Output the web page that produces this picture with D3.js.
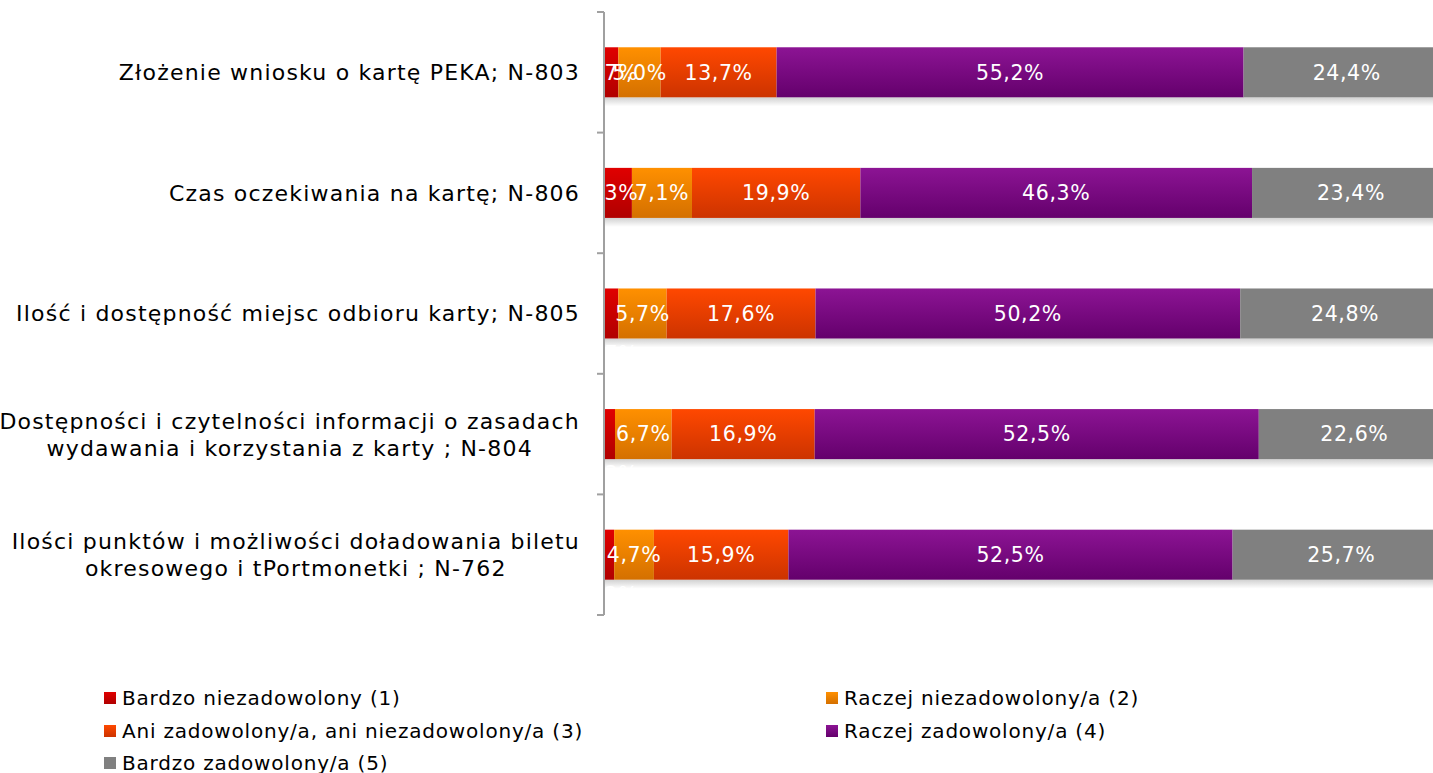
<!DOCTYPE html>
<html><head><meta charset="utf-8">
<script src="https://cdn.jsdelivr.net/npm/d3@7/dist/d3.min.js"></script>
<style>
html,body{margin:0;padding:0;background:#fff;overflow:hidden;}
text{font-family:"DejaVu Sans",Verdana,sans-serif;}
</style></head>
<body>
<svg id="chart" width="1433" height="773"></svg>
<script>
const categories = [
  ["Złożenie wniosku o kartę PEKA; N-803"],
  ["Czas oczekiwania na kartę; N-806"],
  ["Ilość i dostępność miejsc odbioru karty; N-805"],
  ["Dostępności i czytelności informacji o zasadach", "wydawania i korzystania z karty ; N-804"],
  ["Ilości punktów i możliwości doładowania biletu", "okresowego i tPortmonetki ; N-762"]
];
const seriesNames = [
  "Bardzo niezadowolony (1)",
  "Raczej niezadowolony/a (2)",
  "Ani zadowolony/a, ani niezadowolony/a (3)",
  "Raczej zadowolony/a (4)",
  "Bardzo zadowolony/a (5)"
];
const s1 = [1.7, 3.3, 1.7, 1.3, 1.2];
const s2 = [5.0, 7.1, 5.7, 6.7, 4.7];
const s3 = [13.7, 19.9, 17.6, 16.9, 15.9];
const s4 = [55.2, 46.3, 50.2, 52.5, 52.5];
const s5 = [24.4, 23.4, 24.8, 22.6, 25.7];
const seriesValues = [s1, s2, s3, s4, s5];

const gradStops = [
  ["#e00000", "#b00000"],
  ["#ff9000", "#d47000"],
  ["#ff4800", "#cc3300"],
  ["#8c1494", "#64006c"],
  ["#808080", "#808080"]
];

const svg = d3.select("#chart");
const defs = svg.append("defs");
gradStops.forEach((g, i) => {
  const lg = defs.append("linearGradient").attr("id", "g" + i)
    .attr("x1", 0).attr("y1", 0).attr("x2", 0).attr("y2", 1);
  lg.append("stop").attr("offset", "0%").attr("stop-color", g[0]);
  lg.append("stop").attr("offset", "100%").attr("stop-color", g[1]);
});
const sh = defs.append("linearGradient").attr("id", "shadow")
  .attr("x1", 0).attr("y1", 0).attr("x2", 0).attr("y2", 1);
sh.append("stop").attr("offset", "0%").attr("stop-color", "#000").attr("stop-opacity", 0.18);
sh.append("stop").attr("offset", "100%").attr("stop-color", "#000").attr("stop-opacity", 0);
defs.append("clipPath").attr("id", "plotclip").append("rect")
  .attr("x", 605).attr("y", 0).attr("width", 900).attr("height", 640);

const x = d3.scaleLinear().domain([0, 100]).range([604, 1450]);
const y = d3.scaleBand().domain(d3.range(categories.length)).range([12, 615]).paddingInner(0.585).paddingOuter(0.2925);

const stacked = categories.map((c, i) => {
  let acc = 0;
  return seriesValues.map((s, k) => {
    const d = { cat: i, k: k, v: s[i], x0: acc, x1: acc + s[i] };
    acc += s[i];
    return d;
  });
});

const plot = svg.append("g").attr("clip-path", "url(#plotclip)");

// shadows
plot.selectAll("rect.shadow").data(categories.map((c, i) => i)).enter().append("rect")
  .attr("x", x(0)).attr("width", x(100) - x(0))
  .attr("y", i => y(i) + y.bandwidth()).attr("height", 9)
  .attr("fill", "url(#shadow)");

const bars = plot.selectAll("g.cat").data(stacked).enter().append("g");
bars.selectAll("rect").data(d => d).enter().append("rect")
  .attr("x", d => x(d.x0)).attr("width", d => x(d.x1) - x(d.x0))
  .attr("y", d => y(d.cat)).attr("height", y.bandwidth())
  .attr("fill", d => "url(#g" + d.k + ")");

const fmt = v => v.toFixed(1).replace(".", ",") + "%";
bars.selectAll("text").data(d => d).enter().append("text")
  .attr("x", d => d.k === 0 ? x(d.x0) + 7 : (x(d.x0) + x(d.x1)) / 2)
  .attr("y", d => {
    const c = y(d.cat) + y.bandwidth() / 2;
    if (d.k === 0 && d.cat >= 2) return c + 40;
    return c;
  })
  .attr("dy", "0.36em")
  .attr("text-anchor", "middle")
  .attr("font-size", 20.5)
  .attr("letter-spacing", 0.6)
  .attr("fill", "#fff")
  .text(d => fmt(d.v));

// axis
const ax = svg.append("g").attr("transform", "translate(604,0)");
ax.append("line").attr("x1", 0).attr("x2", 0).attr("y1", 12).attr("y2", 615)
  .attr("stroke", "#a0a0a0").attr("stroke-width", 2);
const tickYs = d3.range(categories.length + 1).map(i => 12 + i * (603 / categories.length));
ax.selectAll("line.tick").data(tickYs).enter().append("line")
  .attr("x1", -7).attr("x2", 0).attr("y1", d => d).attr("y2", d => d)
  .attr("stroke", "#a0a0a0").attr("stroke-width", 2);

// category labels
const labG = svg.append("g");
categories.forEach((lines, i) => {
  const cy = y(i) + y.bandwidth() / 2;
  const t = labG.append("text").attr("font-size", 22).attr("letter-spacing", 1.2).attr("fill", "#000");
  if (lines.length === 1) {
    t.attr("x", 580).attr("y", cy).attr("dy", "0.36em").attr("text-anchor", "end").text(lines[0]);
  } else {
    t.attr("text-anchor", "middle");
    lines.forEach((l, j) => {
      t.append("tspan").attr("x", 0).attr("y", cy + (j - 0.5) * 27).attr("dy", "0.36em").text(l);
    });
    const w = t.node().getBBox().width;
    t.selectAll("tspan").attr("x", 580 - w / 2);
  }
});

// legend
const legPos = [[104, 698], [826, 698], [104, 731], [826, 731], [104, 763]];
const leg = svg.append("g");
seriesNames.forEach((n, k) => {
  const [lx, ly] = legPos[k];
  leg.append("rect").attr("x", lx).attr("y", ly - 6).attr("width", 12).attr("height", 12)
    .attr("fill", "url(#g" + k + ")");
  leg.append("text").attr("x", lx + 18).attr("y", ly).attr("dy", "0.36em")
    .attr("font-size", 20).attr("letter-spacing", 0.8).attr("fill", "#000").text(n);
});
</script>
</body></html>
